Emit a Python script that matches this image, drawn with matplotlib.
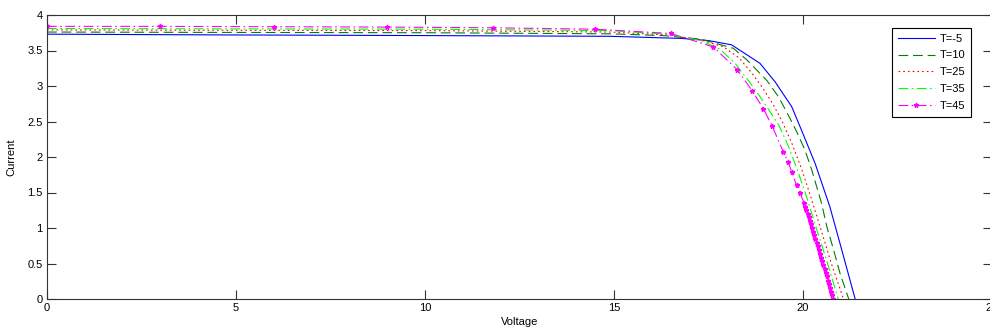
import matplotlib
matplotlib.use("Agg")
import matplotlib.pyplot as plt
from matplotlib.ticker import FormatStrFormatter

# Curvas I-V del panel a distintas temperaturas
etiquetas = ["T=-5", "T=10", "T=25", "T=35", "T=45"]

v_m5 = [0, 4.4, 10.1, 14.9, 16.8, 17.5, 18.11, 18.86, 19.26, 19.70, 19.92, 20.32, 20.71, 20.98, 21.38]
i_m5 = [3.73, 3.72, 3.71, 3.70, 3.67, 3.64, 3.58, 3.32, 3.06, 2.71, 2.43, 1.91, 1.30, 0.78, 0.0]

v_10 = [0, 4.4, 10.1, 14.9, 16.3, 17.3, 18.16, 18.51, 19.04, 19.35, 19.61, 19.83, 20.05, 20.23, 20.49, 20.63, 20.80, 20.98, 21.21]
i_10 = [3.76, 3.755, 3.75, 3.735, 3.71, 3.66, 3.53, 3.37, 3.08, 2.85, 2.59, 2.36, 2.10, 1.82, 1.35, 1.02, 0.71, 0.36, 0.0]

v_25 = [0, 4.4, 10.1, 14.9, 16.4, 17.3, 17.9, 18.3, 18.65, 18.95, 19.2, 19.45, 19.7, 19.95, 20.2, 20.45, 20.75, 21.07]
i_25 = [3.79, 3.785, 3.78, 3.76, 3.72, 3.65, 3.55, 3.40, 3.18, 2.96, 2.75, 2.50, 2.20, 1.85, 1.45, 1.02, 0.50, 0.0]

v_35 = [0, 4.4, 10.1, 14.9, 16.4, 17.3, 17.8, 18.2, 18.55, 18.85, 19.1, 19.35, 19.6, 19.85, 20.1, 20.35, 20.65, 20.93]
i_35 = [3.81, 3.805, 3.80, 3.78, 3.73, 3.64, 3.52, 3.32, 3.08, 2.86, 2.66, 2.46, 2.17, 1.82, 1.43, 1.00, 0.50, 0.0]

v_45 = [0, 3.0, 6.0, 9.0, 11.8, 14.5, 16.5, 17.63, 18.26, 18.66, 18.95, 19.19, 19.48, 19.61, 19.70, 19.83, 19.92, 20.03,
        20.06, 20.09, 20.12, 20.15, 20.18, 20.21, 20.24, 20.27, 20.30, 20.33, 20.36, 20.39, 20.42, 20.45, 20.48,
        20.51, 20.54, 20.57, 20.60, 20.63, 20.66, 20.69, 20.72, 20.75, 20.78, 20.80]
i_45 = [3.84, 3.84, 3.835, 3.83, 3.82, 3.80, 3.74, 3.55, 3.23, 2.93, 2.68, 2.43, 2.07, 1.93, 1.79, 1.60, 1.49, 1.35,
        1.30, 1.25, 1.20, 1.15, 1.10, 1.05, 1.00, 0.95, 0.90, 0.85, 0.79, 0.74, 0.69, 0.64, 0.58,
        0.53, 0.48, 0.42, 0.37, 0.32, 0.26, 0.21, 0.15, 0.10, 0.05, 0.0]

xticks = [0, 5, 10, 15, 20, 25]
yticks = [0, 0.5, 1, 1.5, 2, 2.5, 3, 3.5, 4]

plt.rcParams['font.family'] = ['Liberation Sans', 'DejaVu Sans']
plt.rcParams['lines.scale_dashes'] = False

fig = plt.figure(figsize=(9.9, 3.31), dpi=100)
# el eje derecho queda justo fuera de la imagen, como en la captura
ax = fig.add_axes([47/990, 1 - 299/331, (992 - 47)/990, (299 - 15)/331])

lw = 0.8
ax.plot(v_m5, i_m5, color="#0000ff", lw=lw, label=etiquetas[0])
ax.plot(v_10, i_10, color="#008000", lw=lw, dashes=(7, 3.5), label=etiquetas[1])
ax.plot(v_25, i_25, color="#ff0000", lw=lw, dashes=(1.2, 2.2), label=etiquetas[2])
ax.plot(v_35, i_35, color="#00ff00", lw=lw, dashes=(7, 2.5, 1.2, 2.5), label=etiquetas[3])
ax.plot(v_45, i_45, color="#ff00ff", lw=lw, dashes=(7, 2.5, 1.2, 2.5),
        marker="*", markersize=3.5, label=etiquetas[4])

ax.set_xlim(0, 25)
ax.set_ylim(0, 4)
ax.set_xticks(xticks)
ax.set_yticks(yticks)
ax.yaxis.set_major_formatter(FormatStrFormatter('%g'))
ax.tick_params(direction="in", length=6.5, width=0.8, labelsize=8, pad=3,
               top=True, right=True, colors="#333333", labelcolor="k")
for s in ax.spines.values():
    s.set_color("#333333")
    s.set_linewidth(0.8)

ax.set_xlabel("Voltage", fontsize=8, labelpad=3)
ax.set_ylabel("Current", fontsize=8, labelpad=8)

leg = ax.legend(loc="upper left", bbox_to_anchor=(892/990, 1 - 28/331), bbox_transform=fig.transFigure,
                borderaxespad=0, fontsize=8, handlelength=3.4, handletextpad=0.4,
                labelspacing=0.62, borderpad=0.5, fancybox=False, numpoints=1)
leg.get_frame().set_edgecolor("k")
leg.get_frame().set_linewidth(0.8)
leg.get_frame().set_alpha(1)

fig.savefig("out.png", dpi=100)
